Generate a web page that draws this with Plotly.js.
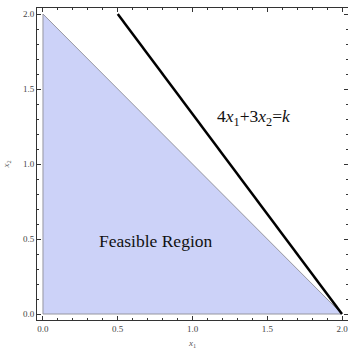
<!DOCTYPE html>
<html><head><meta charset="utf-8">
<script src="https://cdn.plot.ly/plotly-3.0.1.min.js"></script>
<style>html,body{margin:0;padding:0;background:#fff;}#chart{width:348px;height:349px;}</style>
</head><body><div id="chart"></div>
<script>
// Feasible region polygon (vertices)
const regionX = [0, 0, 2, 0];
const regionY = [0, 2, 0, 0];
// Objective line 4x1+3x2=k
const lineX = [0.5, 2];
const lineY = [2, 0];
const tickVals = [0, 0.5, 1, 1.5, 2];
const tickText = ["0.0", "0.5", "1.0", "1.5", "2.0"];
const regionLabel = "Feasible Region";
const lineLabel = "4<i>x</i><sub>1</sub>+3<i>x</i><sub>2</sub>=<i>k</i>";

const serif = "Liberation Serif, Times New Roman, serif";
const traces = [
  {x: regionX, y: regionY, type: 'scatter', mode: 'lines', fill: 'toself',
   fillcolor: 'rgb(204,210,248)', line: {color: 'rgb(150,150,160)', width: 1}, hoverinfo: 'skip'},
  {x: lineX, y: lineY, type: 'scatter', mode: 'lines',
   line: {color: 'black', width: 2.5}, hoverinfo: 'skip'}
];
const axisCommon = {
  range: [-0.04, 2.04], tickvals: tickVals, ticktext: tickText,
  ticks: 'inside', ticklen: 4, tickwidth: 1, tickcolor: '#333',
  mirror: 'allticks', showline: true, linecolor: '#333', linewidth: 1,
  showgrid: false, zeroline: false, ticklabeloverflow: 'allow',
  tickfont: {family: serif, size: 9, color: '#444'},
  minor: {ticks: 'inside', dtick: 0.1, tick0: 0, ticklen: 2, tickcolor: '#333', showgrid: false}
};
const layout = {
  width: 348, height: 349,
  margin: {l: 37, r: 0, t: 8, b: 29},
  showlegend: false,
  paper_bgcolor: 'white', plot_bgcolor: 'white',
  xaxis: Object.assign({}, axisCommon, {
    domain: [0, 1.003],
    title: {text: '<i>x</i><sub>1</sub>', font: {family: serif, size: 9, color: '#555'}}
  }),
  yaxis: Object.assign({}, axisCommon, {
    title: {text: '<i>x</i><sub>2</sub>', font: {family: serif, size: 9, color: '#555'}}
  }),
  annotations: [
    {x: 1.15, y: 1.31, xref: 'x', yref: 'y', text: lineLabel, showarrow: false,
     xanchor: 'left', yanchor: 'middle', font: {family: serif, size: 17.5, color: '#111'}},
    {x: 0.36, y: 0.49, xref: 'x', yref: 'y', text: regionLabel, showarrow: false,
     xanchor: 'left', yanchor: 'middle', font: {family: serif, size: 17.5, color: '#111'}}
  ]
};
Plotly.newPlot('chart', traces, layout, {staticPlot: true, displayModeBar: false});
</script>
</body></html>
